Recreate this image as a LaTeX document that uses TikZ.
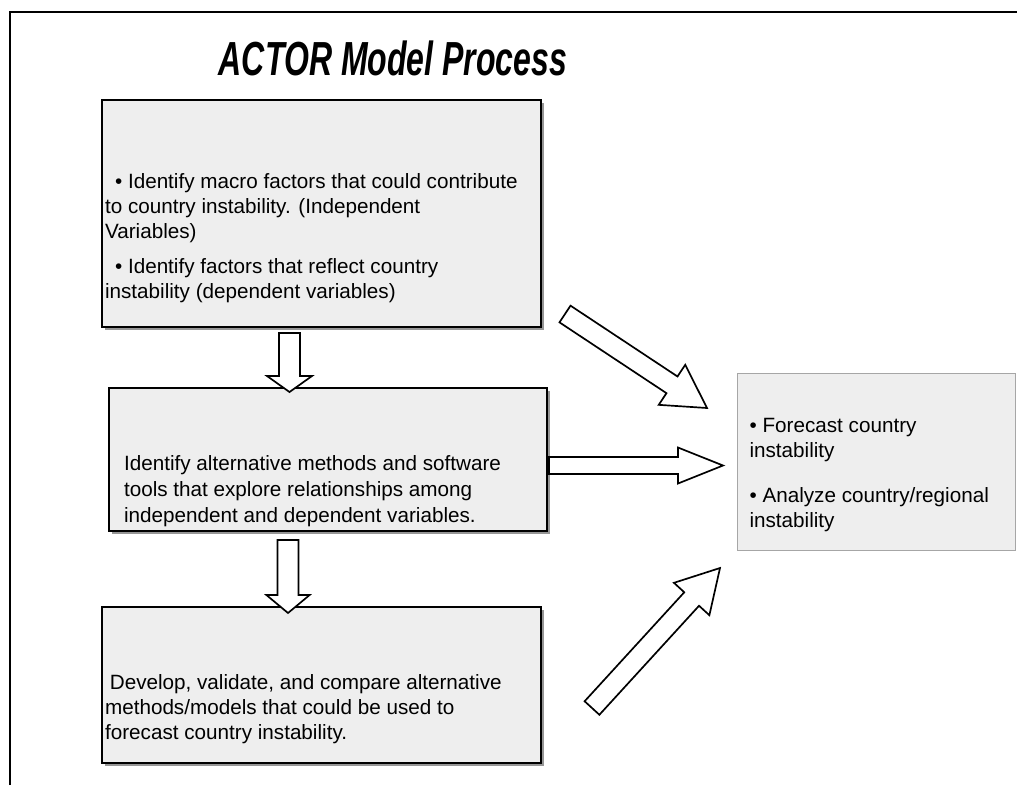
\documentclass[tikz,border=0pt]{standalone}
\usepackage{fontspec}
\setmainfont{Liberation Sans}
\usetikzlibrary{positioning, calc, shadows}
\definecolor{boxgray}{RGB}{238,238,238}
\definecolor{shadowgray}{RGB}{150,150,150}

% hollow block arrow: tail, tip, shaft half width, head half width, head length
\newcommand{\blockarrow}[5]{%
  \coordinate (hb) at ($(#2)!#5!(#1)$);
  \draw[fatarrow] ($(#1)!#3!-90:(#2)$) -- ($(hb)!#3!-90:(#2)$) -- ($(hb)!#4!-90:(#2)$)
    -- (#2) -- ($(hb)!#4!90:(#2)$) -- ($(hb)!#3!90:(#2)$) -- ($(#1)!#3!90:(#2)$) -- cycle;
}

\begin{document}
\begin{tikzpicture}[
    x=0.025cm, y=-0.025cm,
    procbox/.style={draw, line width=1.5pt, fill=boxgray, inner sep=0pt, anchor=north west,
        drop shadow={shadow xshift=2pt, shadow yshift=-2pt, fill=shadowgray, opacity=1}},
    goalbox/.style={draw=black!35, line width=0.8pt, fill=boxgray, inner sep=0pt, anchor=north west},
    fatarrow/.style={draw, line width=1.2pt, fill=white, line join=miter},
    boxtext/.style={font=\fontsize{14.7}{17.8}\selectfont}
]
\useasboundingbox[fill=white] (0,0) rectangle (1017,785);
\draw[line width=1.4pt] (10,785) -- (10,12) -- (1017,12);

\node (title) at (393,58) {\scalebox{0.67}[1]{\fontsize{34}{36}\selectfont\bfseries\itshape ACTOR Model Process}};

\node[procbox, boxtext] (factors) at (101,99) {\parbox[c][5.675cm][b]{10.975cm}{\raggedright\leftskip=0.075cm
    \hspace*{0.25cm}• Identify macro factors that could contribute\\
    to country instability. (Independent\\
    Variables)\\[0.25cm]
    \hspace*{0.25cm}• Identify factors that reflect country\\
    instability (dependent variables)\par\vspace{0.6cm}}};

\node[procbox, boxtext] (methods) at (108,387) {\parbox[c][3.575cm][b]{10.95cm}{\raggedright\leftskip=0.375cm
    \fontsize{14.7}{18.5}\selectfont
    Identify alternative methods and software\\
    tools that explore relationships among\\
    independent and dependent variables.\par\vspace{0.1cm}}};

\node[procbox, boxtext] (models) at (101,606) {\parbox[c][3.9cm][b]{10.975cm}{\raggedright\leftskip=0.075cm
    \hspace*{0.12cm}Develop, validate, and compare alternative\\
    methods/models that could be used to\\
    forecast country instability.\par\vspace{0.49cm}}};

\node[goalbox, boxtext] (goals) at (737,373) {\parbox[c][4.425cm][b]{6.95cm}{\raggedright\leftskip=0.3cm
    • Forecast country\\
    instability\\[0.5cm]
    • Analyze country/regional\\
    instability\par\vspace{0.47cm}}};

% arrows between the boxes
\coordinate (d1s) at (289.5,333);  \coordinate (d1e) at (289.5,392);
\coordinate (d2s) at (288,540);    \coordinate (d2e) at (288,613);
\coordinate (h1s) at (549,465.5);  \coordinate (h1e) at (723,465.5);
\coordinate (u1s) at (565,314);    \coordinate (u1e) at (707,408);
\coordinate (u2s) at (592,708);    \coordinate (u2e) at (720,568);

\blockarrow{d1s}{d1e}{0.2625cm}{0.5625cm}{0.4cm}
\blockarrow{d2s}{d2e}{0.2625cm}{0.54cm}{0.45cm}
\blockarrow{h1s}{h1e}{0.2125cm}{0.45cm}{1.125cm}
\blockarrow{u1s}{u1e}{0.25cm}{0.6cm}{1.05cm}
\blockarrow{u2s}{u2e}{0.25cm}{0.6cm}{1.05cm}
\end{tikzpicture}
\end{document}
